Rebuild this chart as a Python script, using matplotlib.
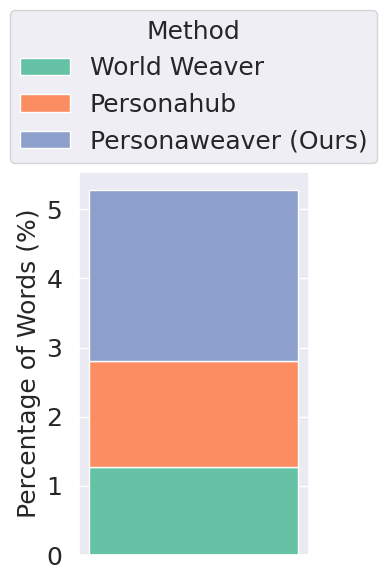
import matplotlib
matplotlib.use('Agg')
import matplotlib.pyplot as plt
import seaborn as sns

sns.set_theme(style='darkgrid')

methods = ['World Weaver', 'Personahub', 'Personaweaver (Ours)']
values = [1.28, 1.53, 2.46]
colors = ['#66c2a5', '#fc8d62', '#8da0cb']

fig = plt.figure(figsize=(3.87, 5.8), dpi=100)
ax = fig.add_axes([0.204, 0.043, 0.594, 0.660])

bottom = 0
handles = []
for m, v, c in zip(methods, values, colors):
    b = ax.bar(0, v, bottom=bottom, color=c, edgecolor='white', linewidth=1, label=m)
    handles.append(b)
    bottom += v

ax.set_xticks([])
ax.set_yticks([0, 1, 2, 3, 4, 5])
ax.tick_params(axis='y', labelsize=18, pad=6)
ax.set_ylabel('Percentage of Words (%)', fontsize=18)

fig.legend(handles=handles, labels=methods, title='Method', loc='lower center',
           bbox_to_anchor=(0.5, 0.697), fontsize=18, title_fontsize=18)

fig.savefig('out.png', dpi=100)
